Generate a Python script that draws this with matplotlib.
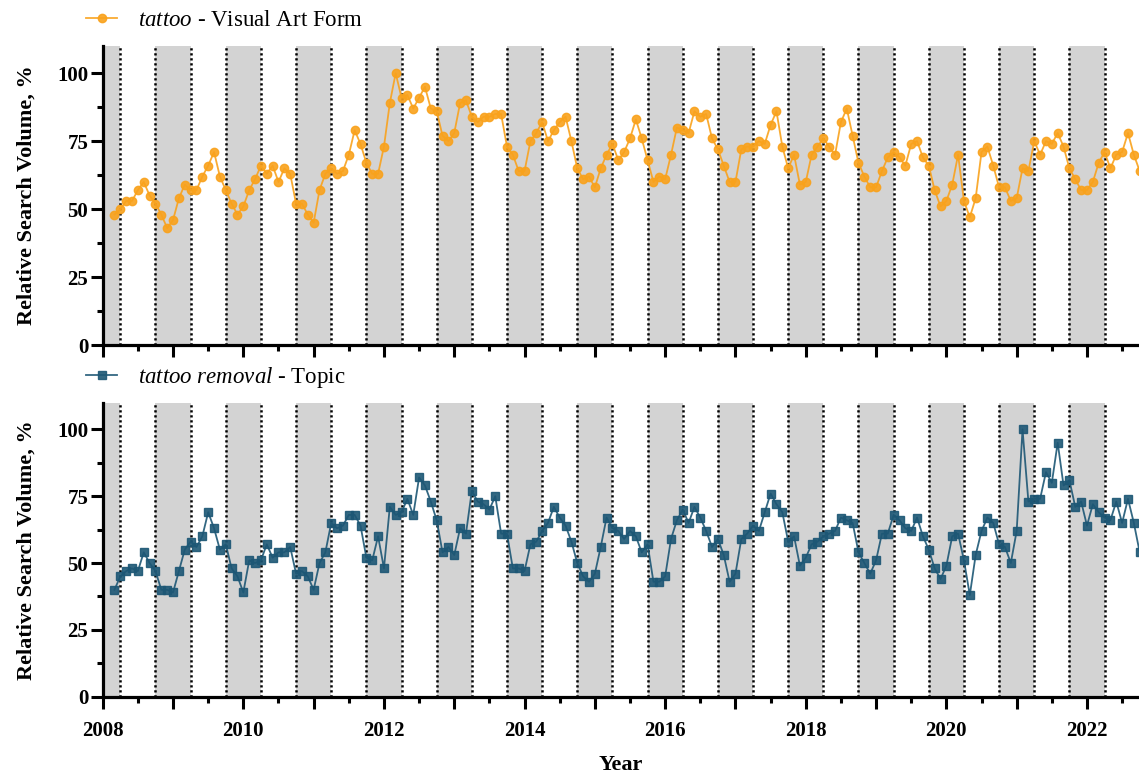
import numpy as np
import matplotlib
matplotlib.use("Agg")
import matplotlib.pyplot as plt
from matplotlib.ticker import MultipleLocator, FixedLocator, FixedFormatter

plt.rcParams["font.family"] = ["Liberation Serif", "DejaVu Serif"]
plt.rcParams["mathtext.fontset"] = "custom"
plt.rcParams["mathtext.it"] = "Liberation Serif:italic"
plt.rcParams["mathtext.rm"] = "Liberation Serif"

# monthly relative search volume (%)
tattoo = [
    48, 50, 53, 53, 57, 60, 55, 52, 48, 43,
    46, 54, 59, 57, 57, 62, 66, 71, 62, 57,
    52, 48, 51, 57, 61, 66, 63, 66, 60, 65,
    63, 52, 52, 48, 45, 57, 63, 65, 63, 64,
    70, 79, 74, 67, 63, 63, 73, 89, 100, 91,
    92, 87, 91, 95, 87, 86, 77, 75, 78, 89,
    90, 84, 82, 84, 84, 85, 85, 73, 70, 64,
    64, 75, 78, 82, 75, 79, 82, 84, 75, 65,
    61, 62, 58, 65, 70, 74, 68, 71, 76, 83,
    76, 68, 60, 62, 61, 70, 80, 79, 78, 86,
    84, 85, 76, 72, 66, 60, 60, 72, 73, 73,
    75, 74, 81, 86, 73, 65, 70, 59, 60, 70,
    73, 76, 73, 70, 82, 87, 77, 67, 62, 58,
    58, 64, 69, 71, 69, 66, 74, 75, 69, 66,
    57, 51, 53, 59, 70, 53, 47, 54, 71, 73,
    66, 58, 58, 53, 54, 65, 64, 75, 70, 75,
    74, 78, 73, 65, 61, 57, 57, 60, 67, 71,
    65, 70, 71, 78, 70, 64,
]
removal = [
    40, 45, 47, 48, 47, 54, 50, 47, 40, 40,
    39, 47, 55, 58, 56, 60, 69, 63, 55, 57,
    48, 45, 39, 51, 50, 51, 57, 52, 54, 54,
    56, 46, 47, 45, 40, 50, 54, 65, 63, 64,
    68, 68, 64, 52, 51, 60, 48, 71, 68, 69,
    74, 68, 82, 79, 73, 66, 54, 56, 53, 63,
    61, 77, 73, 72, 70, 75, 61, 61, 48, 48,
    47, 57, 58, 62, 65, 71, 67, 64, 58, 50,
    45, 43, 46, 56, 67, 63, 62, 59, 62, 60,
    54, 57, 43, 43, 45, 59, 66, 70, 65, 71,
    67, 62, 56, 59, 53, 43, 46, 59, 61, 64,
    62, 69, 76, 72, 69, 58, 60, 49, 52, 57,
    58, 60, 61, 62, 67, 66, 65, 54, 50, 46,
    51, 61, 61, 68, 66, 63, 62, 67, 60, 55,
    48, 44, 49, 60, 61, 51, 38, 53, 62, 67,
    65, 57, 56, 50, 62, 100, 73, 74, 74, 84,
    80, 95, 79, 81, 71, 73, 64, 72, 69, 67,
    66, 73, 65, 74, 65, 54,
]
years = list(range(2008, 2023))
year_labels = [str(y) if y % 2 == 0 else "" for y in years]

x = 2008 + (np.arange(len(tattoo)) + 2) / 12.0
XMAX = 2022.74

ORANGE = "#F9A21C"
BLUE = "#1D5775"
BAND = "#D3D3D3"


def style_axes(ax, show_xlabels):
    ax.set_xlim(2008, XMAX)
    ax.set_ylim(0, 110)
    # winter bands: October -> end of March
    for y in range(2007, 2023):
        ax.axvspan(y + 0.75, y + 1.25, color=BAND, lw=0, zorder=0)
        for edge in (y + 0.75, y + 1.25):
            if 2008 < edge < 2023:
                ax.axvline(edge, color="black", lw=1.8, ls=(0, (0.9, 1.1)),
                           dash_capstyle="butt", zorder=1)
    for s in ("top", "right"):
        ax.spines[s].set_visible(False)
    for s in ("left", "bottom"):
        ax.spines[s].set_linewidth(2.3)
    ax.xaxis.set_major_locator(FixedLocator(years))
    ax.xaxis.set_minor_locator(FixedLocator([y + 0.5 for y in years]))
    ax.yaxis.set_major_locator(MultipleLocator(25))
    ax.yaxis.set_minor_locator(MultipleLocator(12.5))
    ax.tick_params(which="major", length=8.5, width=2.2, labelsize=15, pad=2)
    ax.tick_params(which="minor", length=4.5, width=2.2)
    ax.tick_params(axis="x", which="major", pad=9)
    if show_xlabels:
        ax.xaxis.set_major_formatter(FixedFormatter(year_labels))
    else:
        ax.set_xticklabels([])
    for lab in ax.get_yticklabels() + ax.get_xticklabels():
        lab.set_fontweight("bold")
    ax.set_ylabel("Relative Search Volume, %", fontsize=16, fontweight="bold", labelpad=15)


fig = plt.figure(figsize=(11.39, 7.75), dpi=100)
ax1 = fig.add_axes([0.0902, 0.5548, 0.9098, 0.3858])
ax2 = fig.add_axes([0.0902, 0.1010, 0.9098, 0.3795])

ax1.plot(x, tattoo, color=ORANGE, lw=1.3, marker="o", ms=6, mec=ORANGE, mfc=ORANGE,
         alpha=0.9, zorder=3, label=r"$\mathit{tattoo}$ - Visual Art Form")
ax2.plot(x, removal, color=BLUE, lw=1.3, marker="s", ms=5.5, mec=BLUE, mfc=BLUE,
         alpha=0.9, zorder=3, label=r"$\mathit{tattoo\ removal}$ - Topic")

style_axes(ax1, False)
style_axes(ax2, True)
ax2.set_xlabel("Year", fontsize=16, fontweight="bold", labelpad=10)

for ax, yy in ((ax1, 1.087), (ax2, 1.084)):
    ax.legend(loc="center left", bbox_to_anchor=(-0.016, yy), frameon=False,
              fontsize=16.5, handlelength=1.35, handletextpad=0.9,
              borderpad=0, borderaxespad=0)

fig.savefig("out.png", dpi=100)
